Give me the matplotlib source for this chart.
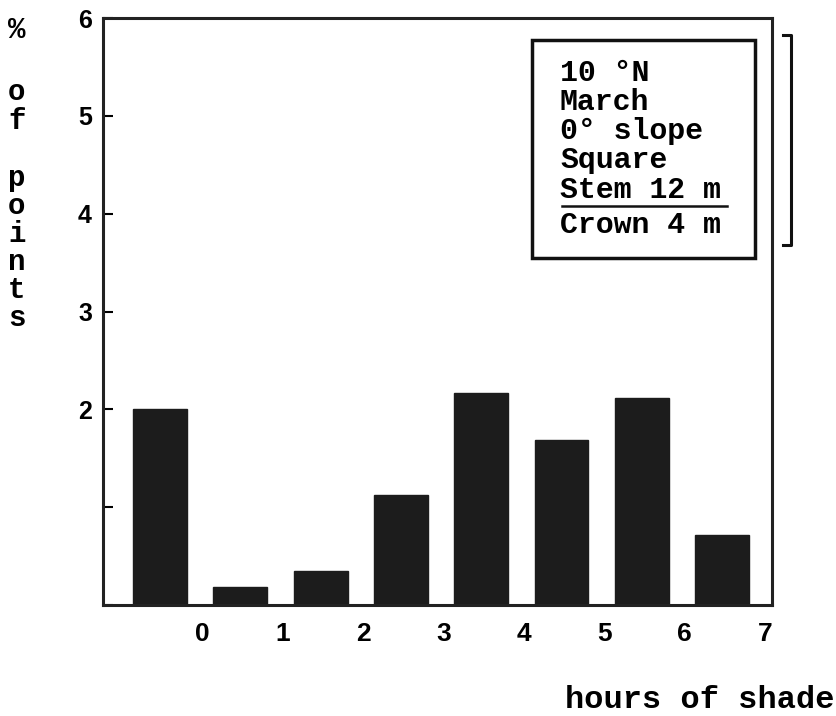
import matplotlib
matplotlib.use("Agg")
import matplotlib.pyplot as plt
from matplotlib.patches import Rectangle
from matplotlib.lines import Line2D

# Data
hours = [0, 1, 2, 3, 4, 5, 6, 7]
percent_points = [2.0, 0.18, 0.35, 1.12, 2.17, 1.69, 2.12, 0.72]
y_ticks = [0, 1, 2, 3, 4, 5, 6]
y_tick_labels = ["", "", "2", "3", "4", "5", "6"]
info_lines = ["10 °N", "March", "0° slope", "Square", "Stem 12 m", "Crown 4 m"]
ylabel_text = "% of points"
xlabel_text = "hours of shade"

W, H = 837, 716
fig = plt.figure(figsize=(W / 100, H / 100), dpi=100)
fig.patch.set_facecolor("white")

def fx(px):
    return px / W

def fy(py):
    return 1 - py / H

ax = fig.add_axes([fx(103), fy(605), fx(772) - fx(103), fy(18) - fy(605)])

positions = list(range(len(percent_points)))
ax.bar(positions, percent_points, width=0.67, color="#1c1c1c", edgecolor="#1c1c1c")

ax.set_xlim(-0.71, 7.62)
ax.set_ylim(0, 6)

ax.set_xticks([p + 0.53 for p in positions])
ax.set_xticklabels([str(h) for h in hours], fontsize=19, fontweight="bold",
                   family="Liberation Sans")
ax.tick_params(axis="x", length=0, pad=12)

ax.set_yticks(y_ticks)
ax.set_yticklabels(y_tick_labels, fontsize=18, fontweight="bold", family="Liberation Sans")
ax.tick_params(axis="y", direction="in", length=7, width=1.5, pad=8)

for s in ax.spines.values():
    s.set_linewidth(2.2)
    s.set_color("#222222")

# Y label stacked letters
mono = "Liberation Mono"
ylabel_positions = {0: 30, 2: 92, 3: 121, 5: 178, 6: 206, 7: 234, 8: 262, 9: 290, 10: 318}
for idx, py in ylabel_positions.items():
    ch = ylabel_text[idx]
    fig.text(fx(17), fy(py), ch, fontsize=21, fontweight="bold", family=mono,
             ha="center", va="center")

# X label
fig.text(fx(700), fy(700), xlabel_text, fontsize=23, fontweight="bold", family=mono,
         ha="center", va="center")

# Info box
box = Rectangle((fx(532), fy(258)), fx(755) - fx(532), fy(40) - fy(258),
                transform=fig.transFigure, fill=False, linewidth=2.5, edgecolor="#111111")
fig.add_artist(box)
line_y = [73, 102, 131, 160, 190, 225]
for txt, py in zip(info_lines, line_y):
    fig.text(fx(560), fy(py), txt, fontsize=21.5, fontweight="bold", family=mono,
             ha="left", va="center")
fig.add_artist(Line2D([fx(562), fx(727)], [fy(206), fy(206)], transform=fig.transFigure,
                      color="#111111", linewidth=1.8))

# Bracket on right
fig.add_artist(Line2D([fx(783), fx(791), fx(791), fx(783)],
                      [fy(35), fy(35), fy(245), fy(245)], transform=fig.transFigure,
                      color="#111111", linewidth=2.2))

fig.savefig("out.png", dpi=100, facecolor="white")
